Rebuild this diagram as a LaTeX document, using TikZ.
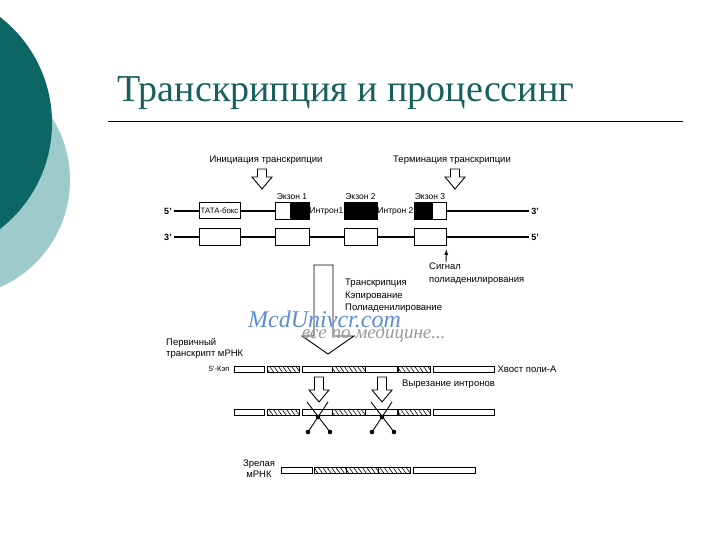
\documentclass[tikz,border=0pt]{standalone}
\usepackage{fontspec}
\setmainfont{Liberation Serif}
\setsansfont{Liberation Sans}
\usetikzlibrary{arrows.meta,positioning,calc,patterns.meta}
\definecolor{slideteal}{HTML}{0B6664}
\definecolor{slidemint}{HTML}{9DCBCB}
\definecolor{titleteal}{HTML}{17605F}
\definecolor{markblue}{HTML}{5C8FD0}

\begin{document}
\begin{tikzpicture}[x=1pt,y=-1pt,>=Latex,
  lbl/.style={font=\sffamily\fontsize{9.5}{12.5}\selectfont,inner sep=0pt},
  small/.style={font=\sffamily\fontsize{8.5}{10}\selectfont,inner sep=0pt},
  endlbl/.style={font=\sffamily\bfseries\fontsize{9}{10}\selectfont,inner sep=2pt},
  genebox/.style={draw,line width=1pt,fill=white,minimum height=17pt,inner sep=0pt},
  rnabox/.style={draw,line width=.8pt,fill=white,minimum height=6pt,inner sep=0pt},
  intronbox/.style={rnabox,pattern={Lines[angle=-55,distance=3.6pt,line width=.6pt]}},
  strand/.style={line width=1.2pt},
  hollow/.style={draw,line width=.9pt,fill=white,line join=miter}]

  \useasboundingbox (0,0) rectangle (720,540);
  % Slide decoration and title
  \begin{scope}
    \clip (0,0) rectangle (720,540);
    \fill[slidemint] (-47,180) circle[radius=117pt];
    \fill[slideteal] (-82,123) circle[radius=134pt];
  \end{scope}
  \node[anchor=base west,font=\fontsize{38}{40}\selectfont,text=titleteal,inner sep=0pt]
    (title) at (117,102) {Транскрипция и процессинг};
  \draw[line width=.8pt] (108,121) -- (683,121);

  % Gene: coding strand
  \node[lbl] (init) at (266,160) {Инициация транскрипции};
  \node[lbl] (term) at (452,160) {Терминация транскрипции};
  \node[endlbl] (top5) at (168,211) {5'};
  \node[genebox,minimum width=41pt,minimum height=16pt] (tata) at (219.5,211)
    {\sffamily\fontsize{7.8}{9}\selectfont ТАТА-бокс};
  \node[genebox,minimum width=34pt] (ex1) at (292,211) {};
  \node[genebox,minimum width=33pt,fill=black] (ex2) at (360.5,211) {};
  \node[genebox,minimum width=32pt] (ex3) at (430,211) {};
  \fill (ex1.north east) rectangle ([xshift=-20pt]ex1.south east);
  \fill (ex3.north west) rectangle ([xshift=19pt]ex3.south west);
  \node[endlbl] (top3) at (535,211) {3'};
  \draw[strand] (top5) -- (tata) -- (ex1) (ex3) -- (top3);
  \node[small] (in1) at (326.5,211) {Интрон1};
  \node[small] (in2) at (395.5,211) {Интрон 2};
  \foreach \e/\t in {ex1/Экзон 1,ex2/Экзон 2,ex3/Экзон 3}
    \node[small,above=2pt of \e] {\t};

  % Gene: template strand
  \node[endlbl] (low3p) at (168,237) {3'};
  \foreach \bx/\bw [count=\i] in {219.5/41,292/34,360.5/33,430/32}
    \node[genebox,minimum width=\bw pt] (low\i) at (\bx,237) {};
  \node[endlbl] (low5p) at (535,237) {5'};
  \draw[strand] (low3p) -- (low1) -- (low2) -- (low3) -- (low4) -- (low5p);

  % Polyadenylation signal
  \node[lbl,align=left,anchor=north west] (sig) at (429,263) {Сигнал\\полиаденилирования};
  \coordinate (sigfoot) at (446,262);
  \draw[-{Latex[length=6pt,width=4pt]},line width=.9pt,shorten >=3pt] (sigfoot) -- (low4.south east);

  % Small hollow arrows
  \foreach \ax/\ay/\al in {262/169/20,455/169/20,319/377/25,382/377/25}
    \draw[hollow] (\ax-4.5,\ay) -- (\ax+4.5,\ay) -- (\ax+4.5,\ay+\al-12) -- (\ax+10,\ay+\al-12)
      -- (\ax,\ay+\al) -- (\ax-10,\ay+\al-12) -- (\ax-4.5,\ay+\al-12) -- cycle;

  % Big hollow arrow and processing steps
  \draw[hollow] (314,265) -- (333,265) -- (333,336) -- (354,336) -- (328,354)
    -- (302,336) -- (314,336) -- cycle;
  \node[lbl,align=left,anchor=north west] (steps) at (345,279)
    {Транскрипция\\Кэпирование\\Полиаденилирование};
  \node[font=\itshape\fontsize{24}{26}\selectfont,text=markblue,anchor=base west,inner sep=0pt]
    (mark) at (248,327) {McdUnivcr.com};
  \node[font=\itshape\fontsize{19}{20}\selectfont,text=gray!80,anchor=base west,inner sep=0pt]
    (motto) at (302,338) {все по медицине...};

  % Primary transcript and intron excision
  \node[lbl,align=left,anchor=north west,font=\sffamily\fontsize{9.5}{11}\selectfont]
    (primary) at (166,338) {Первичный\\транскрипт мРНК};
  \foreach \sa/\sb/\kind [count=\i] in {234/264/rnabox,267/299/intronbox,302/332/rnabox,
      332/365/intronbox,365/397/rnabox,398/430/intronbox,433/494/rnabox} {
    \node[\kind,minimum width=\sb-\sa] (pre\i) at ({(\sa+\sb)/2},369) {};
    \node[\kind,minimum width=\sb-\sa] (cut\i) at ({(\sa+\sb)/2},412) {};
  }
  \node[small,font=\sffamily\fontsize{7.5}{9}\selectfont,left=4pt of pre1] (cap) {5'-Кэп};
  \node[lbl,right=3pt of pre7] (tail) {Хвост поли-А};
  \node[lbl,anchor=west] (excise) at (402,384) {Вырезание интронов};
  \foreach \xc in {318,382} {
    \draw[line width=.9pt] (\xc-11,402) -- (\xc+12,432) (\xc+10,402) -- (\xc-10,432);
    \fill (\xc,417) circle[radius=2.3pt] (\xc+12,432) circle[radius=2.3pt]
      (\xc-10,432) circle[radius=2.3pt];
  }

  % Mature mRNA
  \node[lbl,align=center,font=\sffamily\fontsize{9.5}{11}\selectfont] (mature) at (259,469) {Зрелая\\мРНК};
  \foreach \sa/\sb/\kind [count=\i] in {281/312/rnabox,314/346/intronbox,346/378/intronbox,
      378/410/intronbox,413/475/rnabox}
    \node[\kind,minimum width=\sb-\sa] (mat\i) at ({(\sa+\sb)/2},470) {};
\end{tikzpicture}
\end{document}
